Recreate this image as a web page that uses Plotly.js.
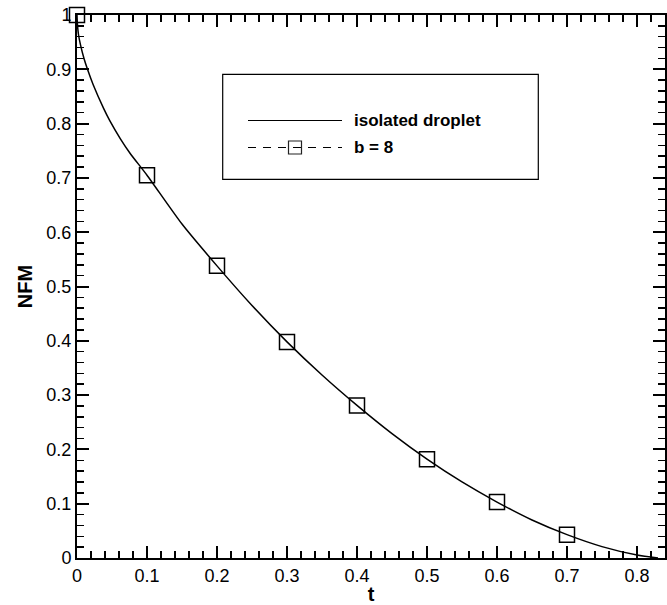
<!DOCTYPE html>
<html>
<head>
<meta charset="utf-8">
<script src="https://cdn.plot.ly/plotly-3.0.1.min.js"></script>
<style>html,body{margin:0;padding:0;background:#fff;}#chart{width:667px;height:605px;}</style>
</head>
<body>
<div id="chart"></div>
<script>
// isolated droplet curve
const isoT = [0, 0.0005, 0.002, 0.005, 0.01, 0.015, 0.023, 0.038, 0.047, 0.062, 0.076, 0.1, 0.15, 0.2, 0.25, 0.3, 0.35, 0.4, 0.45, 0.5, 0.55, 0.6, 0.65, 0.7, 0.75, 0.8, 0.83];
const isoNFM = [1.0, 0.985, 0.965, 0.945, 0.92, 0.9, 0.872, 0.828, 0.805, 0.772, 0.745, 0.705, 0.615, 0.538, 0.465, 0.398, 0.337, 0.281, 0.229, 0.182, 0.14, 0.103, 0.07, 0.043, 0.021, 0.0055, 0.0];
// b = 8 markers
const b8T = [0, 0.1, 0.2, 0.3, 0.4, 0.5, 0.6, 0.7];
const b8NFM = [1.0, 0.705, 0.538, 0.398, 0.281, 0.182, 0.103, 0.043];
const legendLabels = ["isolated droplet", "b = 8"];

const traces = [
  {x: isoT, y: isoNFM, mode: 'lines', name: legendLabels[0], line: {color: '#000', width: 1.5, shape: 'spline', smoothing: 0.6}, showlegend: false},
  {x: b8T, y: b8NFM, mode: 'markers', name: legendLabels[1], cliponaxis: false,
   marker: {symbol: 'square-open', size: 15, color: '#000', line: {color: '#222', width: 1.5}}, showlegend: false}
];

const font = {family: 'Liberation Sans, Arial, sans-serif', color: '#000'};
const axisCommon = {
  showline: true, linecolor: '#000', linewidth: 2, mirror: 'ticks',
  ticks: 'inside', ticklen: 12, tickwidth: 2, tickcolor: '#000',
  showgrid: false, zeroline: false, dtick: 0.1, tick0: 0,
  tickfont: Object.assign({size: 18}, font),
  minor: {ticks: 'inside', ticklen: 7, tickwidth: 1.5, tickcolor: '#000', dtick: 0.02, showgrid: false}
};

const px = x => (x - 77) / 588;
const py = y => (558 - y) / 543;

const shapes = [
  {type: 'rect', xref: 'paper', yref: 'paper', x0: px(222.7), x1: px(538.3), y0: py(179.3), y1: py(74.3), line: {color: '#000', width: 1.2}, fillcolor: 'rgba(0,0,0,0)'},
  {type: 'line', xref: 'paper', yref: 'paper', x0: px(248), x1: px(342), y0: py(120.5), y1: py(120.5), line: {color: '#000', width: 1.2}},
  {type: 'line', xref: 'paper', yref: 'paper', x0: px(248), x1: px(342), y0: py(147.5), y1: py(147.5), line: {color: '#000', width: 1.2, dash: '8px,7px'}},
  {type: 'rect', xref: 'paper', yref: 'paper', x0: px(288.5), x1: px(301.5), y0: py(154), y1: py(141), line: {color: '#222', width: 1.2}, fillcolor: 'rgba(0,0,0,0)'}
];

const annotations = [
  {xref: 'paper', yref: 'paper', x: px(352), y: py(120.5), xanchor: 'left', yanchor: 'middle', showarrow: false, text: '<b>' + legendLabels[0] + '</b>', font: Object.assign({size: 17}, font)},
  {xref: 'paper', yref: 'paper', x: px(352), y: py(147.5), xanchor: 'left', yanchor: 'middle', showarrow: false, text: '<b>' + legendLabels[1] + '</b>', font: Object.assign({size: 17}, font)}
];

const layout = {
  width: 667, height: 605,
  margin: {l: 77, r: 2, t: 15, b: 47, pad: 0},
  paper_bgcolor: '#fff', plot_bgcolor: '#fff',
  font: font,
  showlegend: false,
  xaxis: Object.assign({}, axisCommon, {range: [0, 0.84], title: {text: '<b>t</b>', font: Object.assign({size: 20}, font), standoff: 2}}),
  yaxis: Object.assign({}, axisCommon, {range: [0, 1], title: {text: '<b>NFM</b>', font: Object.assign({size: 20}, font), standoff: 8}}),
  shapes: shapes,
  annotations: annotations
};

Plotly.newPlot('chart', traces, layout, {displayModeBar: false, staticPlot: true});
</script>
</body>
</html>
